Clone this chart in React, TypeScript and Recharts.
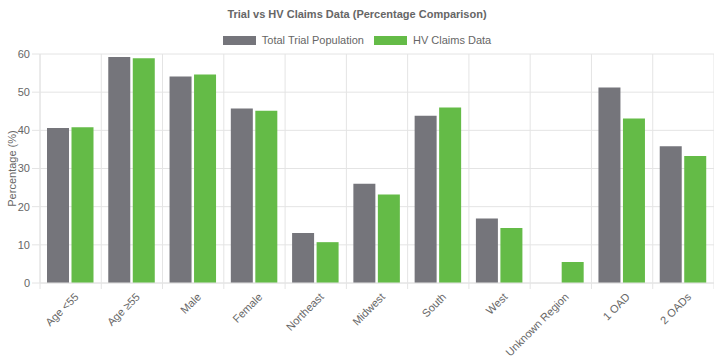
import React from 'react';
import { BarChart, Bar, CartesianGrid, XAxis, YAxis } from 'recharts';

const categories = ['Age <55', 'Age ≥55', 'Male', 'Female', 'Northeast', 'Midwest', 'South', 'West', 'Unknown Region', '1 OAD', '2 OADs'];
const trialValues = [40.6, 59.2, 54.1, 45.7, 13.1, 26.0, 43.8, 16.9, 0, 51.2, 35.8];
const hvValues = [40.8, 58.9, 54.6, 45.1, 10.7, 23.2, 46.0, 14.4, 5.5, 43.1, 33.3];
const yTicks = [0, 10, 20, 30, 40, 50, 60];

const data = categories.map((name, i) => ({ name, trial: trialValues[i], hv: hvValues[i] }));

const W = 714;
const H = 357;
const FONT = '"Liberation Sans", Arial, sans-serif';
const GRID = '#e4e4e4';
const TEXT = '#666';
const GRAY = '#75757b';
const GREEN = '#64bb47';

const margin = { top: 54, right: 0, bottom: 0, left: 0 };
const yWidth = 40;
const xHeight = 74;
const band = (W - margin.left - margin.right - yWidth) / categories.length;

function XTick(props: any) {
  const { x, y, payload, index } = props;
  return (
    <g>
      <line x1={x - band / 2} x2={x - band / 2} y1={y} y2={y + 6} stroke={GRID} />
      {index === categories.length - 1 && (
        <line x1={x + band / 2} x2={x + band / 2} y1={y} y2={y + 6} stroke={GRID} />
      )}
      <text
        x={x + 3}
        y={y + 9}
        transform={`rotate(-45, ${x + 3}, ${y + 9})`}
        textAnchor="end"
        dominantBaseline="hanging"
        fontSize={11}
        fontFamily={FONT}
        fill={TEXT}
      >
        {payload.value}
      </text>
    </g>
  );
}

const legendItems = [
  { label: 'Total Trial Population', color: GRAY },
  { label: 'HV Claims Data', color: GREEN },
];

export default function App() {
  return (
    <div style={{ position: 'absolute', left: 0, top: 0, width: W, height: H, background: '#fff' }}>
      <div
        style={{
          position: 'absolute',
          top: 8,
          width: W,
          textAlign: 'center',
          fontFamily: FONT,
          fontWeight: 'bold',
          fontSize: 11,
          color: TEXT,
        }}
      >
        Trial vs HV Claims Data (Percentage Comparison)
      </div>
      <div
        style={{
          position: 'absolute',
          top: 34,
          width: W,
          display: 'flex',
          justifyContent: 'center',
          gap: 10,
          fontFamily: FONT,
          fontSize: 11,
          color: TEXT,
        }}
      >
        {legendItems.map((it) => (
          <div key={it.label} style={{ display: 'flex', alignItems: 'center' }}>
            <span style={{ display: 'inline-block', width: 33, height: 9, background: it.color, marginRight: 6 }} />
            <span>{it.label}</span>
          </div>
        ))}
      </div>
      <BarChart width={W} height={H} data={data} margin={margin} barGap={2.5} barSize={22}>
        <CartesianGrid
          stroke={GRID}
          verticalCoordinatesGenerator={({ offset }: any) =>
            categories.map((_, i) => offset.left + i * (offset.width / categories.length)).concat([offset.left + offset.width])
          }
        />
        <XAxis dataKey="name" interval={0} height={xHeight} tickSize={0} tickMargin={0} tick={<XTick />} stroke={GRID} />
        <YAxis
          width={yWidth}
          domain={[0, 60]}
          ticks={yTicks}
          tickSize={8}
          tickMargin={2}
          stroke={GRID}
          tick={{ fill: TEXT, fontSize: 11, fontFamily: FONT }}
          label={{ value: 'Percentage (%)', angle: -90, position: 'insideLeft', offset: 0, dx: 12, style: { textAnchor: 'middle', fill: TEXT, fontSize: 11, fontFamily: FONT } }}
        />
        <Bar dataKey="trial" name="Total Trial Population" fill={GRAY} isAnimationActive={false} />
        <Bar dataKey="hv" name="HV Claims Data" fill={GREEN} isAnimationActive={false} />
      </BarChart>
    </div>
  );
}
